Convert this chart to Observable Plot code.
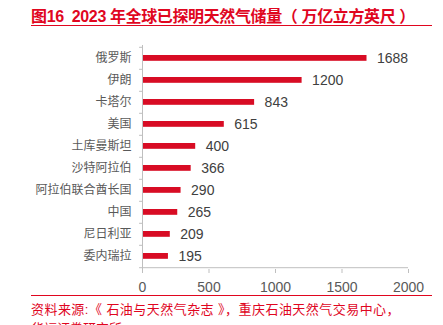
<!DOCTYPE html>
<html><head><meta charset="utf-8">
<script src="https://cdn.jsdelivr.net/npm/d3@7"></script>
<script src="https://cdn.jsdelivr.net/npm/@observablehq/plot@0.6"></script>
<style>
html,body{margin:0;padding:0;background:#fff;width:443px;height:325px;overflow:hidden;font-family:"Liberation Sans","Noto Sans CJK SC",sans-serif;}
#title{position:absolute;left:31px;top:3px;font-size:16px;font-weight:bold;color:#e0061f;white-space:nowrap;}
#tline{position:absolute;left:31px;top:25px;width:401px;height:0;border-top:1.5px solid #e0061f;}
#chart{position:absolute;left:0;top:40px;}
#bline{position:absolute;left:31px;top:295px;width:401px;height:0;border-top:1.5px solid #e0061f;}
#source{position:absolute;left:31px;top:300px;font-size:13px;color:#e0061f;line-height:19px;white-space:nowrap;}
</style></head>
<body>
<div id="title"><span id="tt">图16&nbsp;&nbsp;2023 年全球已探明天然气储量（ 万亿立方英尺 ）</span></div>
<div id="tline"></div>
<div id="chart"></div>
<div id="bline"></div>
<div id="source"><span id="s1">资料来源:《 石油与天然气杂志 》，重庆石油天然气交易中心，</span><br>华福证券研究所</div>
<script>
const countries = ["俄罗斯","伊朗","卡塔尔","美国","土库曼斯坦","沙特阿拉伯","阿拉伯联合酋长国","中国","尼日利亚","委内瑞拉"];
const reserves = [1688,1200,843,615,400,366,290,265,209,195];
const xTicks = [0,500,1000,1500,2000];

function fitWidth(id, target){
  const el = document.getElementById(id);
  const w = el.getBoundingClientRect().width;
  const n = el.textContent.length;
  el.style.letterSpacing = ((target - w) / n) + "px";
}
fitWidth("tt", 384);
fitWidth("s1", 369);

const data = countries.map((c,i)=>({country:c, value:reserves[i]}));
const gray = "#bfbfbf";
const chart = Plot.plot({
  width:443, height:256,
  marginLeft:142, marginRight:35, marginTop:5, marginBottom:27,
  style:{fontFamily:'"Liberation Sans","Noto Sans CJK SC",sans-serif', background:"transparent"},
  x:{domain:[0,2000]},
  y:{domain:countries, padding:0},
  marks:[
    Plot.barX(data,{x:"value", y:"country", fill:"#d80c24", insetTop:8, insetBottom:8.2}),
    Plot.text(data,{x:"value", y:"country", text:d=>String(d.value), textAnchor:"start", dx:10, fontSize:14, fill:"#404040"}),
    Plot.ruleX([0],{stroke:gray, strokeWidth:1}),
    Plot.ruleY(countries,{y:d=>d, x1:-22, x2:0, dy:-11.2, stroke:gray}),
    Plot.ruleY([countries[countries.length-1]],{y:d=>d, x1:-22, x2:0, dy:11.2, stroke:gray}),
    Plot.axisY({tickSize:0, tickPadding:11, fontSize:12, color:"#595959", label:null}),
    Plot.axisX({ticks:xTicks, tickFormat:d=>String(d), tickSize:4, tickPadding:9, fontSize:14, color:"#595959", stroke:gray, label:null}),
    Plot.ruleY([0],{y:()=>countries[countries.length-1], dy:11.2, stroke:gray, x1:0, x2:2000})
  ]
});
document.getElementById("chart").appendChild(chart);
</script>
</body></html>
